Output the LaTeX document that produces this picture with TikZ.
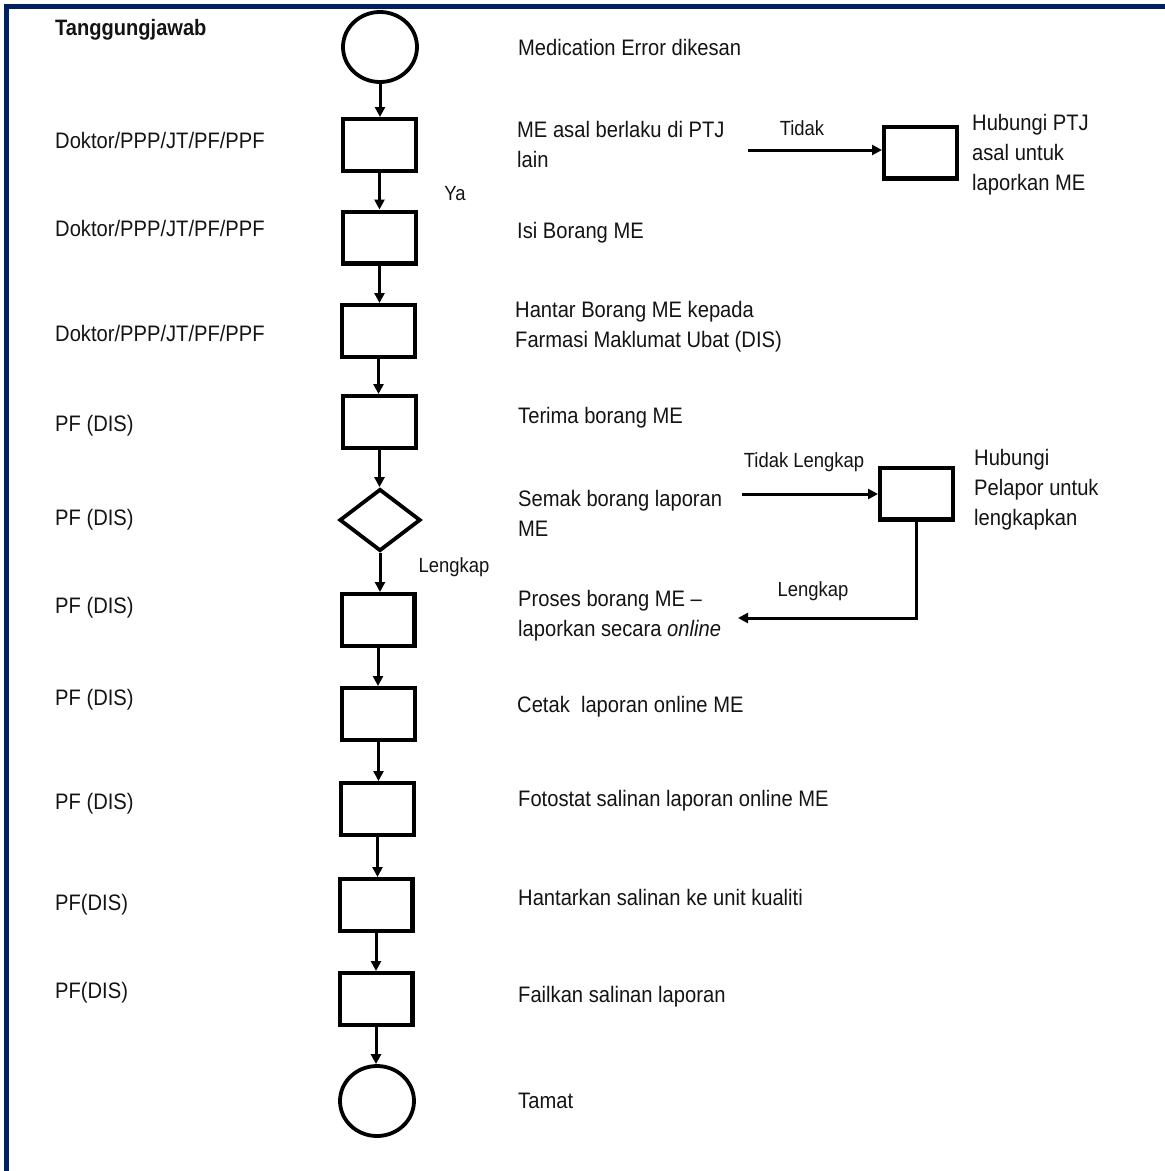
\documentclass[tikz,border=0pt]{standalone}
\usepackage{fontspec}
\setmainfont{Liberation Sans}[FakeStretch=0.9]
\usetikzlibrary{shapes.geometric,arrows.meta}
\definecolor{frameblue}{RGB}{0,32,96}
\definecolor{inkc}{RGB}{20,20,20}
\tikzset{
  procbox/.style={draw, rectangle, line width=4.2pt, minimum width=72.8pt, minimum height=51.8pt, inner sep=0pt},
  termnode/.style={draw, ellipse, line width=3.8pt, minimum width=74pt, minimum height=70pt, inner sep=0pt},
  decnode/.style={draw, diamond, line width=3.8pt, minimum width=81pt, minimum height=62pt, inner sep=0pt},
  conn/.style={line width=3pt, -{Triangle[length=10pt,width=10pt]}},
  txt/.style={anchor=west, inner sep=0pt, align=left, text=inkc, font=\fontsize{22.4}{30}\selectfont},
  lbl/.style={anchor=center, inner sep=0pt, text=inkc, font=\fontsize{20.5}{24}\selectfont},
}
\begin{document}
\begin{tikzpicture}[x=1pt,y=-1pt]
\useasboundingbox (0,0) rectangle (1165,1171);
\draw[line width=5pt, frameblue, line join=miter] (6,1175) -- (6,6) -- (1170,6);

% main column
\node[termnode] (start) at (380,47) {};
\node[procbox] (b1) at (379.5,145) {};
\node[procbox] (b2) at (379.5,237.5) {};
\node[procbox] (b3) at (378.5,331) {};
\node[procbox] (b4) at (379.5,422) {};
\node[decnode] (d1) at (380,520) {};
\node[procbox] (b5) at (378,620) {};
\node[procbox] (b6) at (378.5,714) {};
\node[procbox] (b7) at (377.5,809) {};
\node[procbox] (b8) at (376,905) {};
\node[procbox] (b9) at (376,999) {};
\node[termnode] (end) at (377,1101) {};

% side boxes
\node[procbox] (ptj) at (920.5,152.5) {};
\node[procbox] (pel) at (916.5,493.5) {};

% connectors
\draw[conn] (start.south) -- (start.south |- b1.north);
\draw[conn] (b1.south) -- (b1.south |- b2.north);
\draw[conn] (b2.south) -- (b2.south |- b3.north);
\draw[conn] (b3.south) -- (b3.south |- b4.north);
\draw[conn] (b4.south) -- (b4.south |- d1.north);
\draw[conn] (d1.south) -- (d1.south |- b5.north);
\draw[conn] (b5.south) -- (b5.south |- b6.north);
\draw[conn] (b6.south) -- (b6.south |- b7.north);
\draw[conn] (b7.south) -- (b7.south |- b8.north);
\draw[conn] (b8.south) -- (b8.south |- b9.north);
\draw[conn] (b9.south) -- (b9.south |- end.north);

\coordinate (t1) at (748,150);
\coordinate (t2) at (742,494);
\coordinate (t3) at (738,618);
\draw[conn] (t1) -- (t1 -| ptj.west);
\draw[conn] (t2) -- (t2 -| pel.west);
\draw[conn] (pel.south) |- (t3);

% left column
\node[txt, font=\fontsize{22.3}{24}\selectfont\bfseries] (h) at (55,30) {Tanggungjawab};
\node[txt] (l1) at (55,140) {Doktor/PPP/JT/PF/PPF};
\node[txt] (l2) at (55,228) {Doktor/PPP/JT/PF/PPF};
\node[txt] (l3) at (55,333) {Doktor/PPP/JT/PF/PPF};
\node[txt] (l4) at (55,426) {PF (DIS)};
\node[txt] (l5) at (55,520) {PF (DIS)};
\node[txt] (l6) at (55,608) {PF (DIS)};
\node[txt] (l7) at (55,700) {PF (DIS)};
\node[txt] (l8) at (55,804) {PF (DIS)};
\node[txt] (l9) at (55,905) {PF(DIS)};
\node[txt] (l10) at (55,993) {PF(DIS)};

% right descriptions
\node[txt] (r1) at (518,47) {Medication Error dikesan};
\node[txt] (r2) at (517,144.5) {ME asal berlaku di PTJ\\lain};
\node[txt] (r3) at (517,233) {Isi Borang ME};
\node[txt] (r4) at (515,327) {Hantar Borang ME kepada\\Farmasi Maklumat Ubat (DIS)};
\node[txt] (r5) at (518,418) {Terima borang ME};
\node[txt] (r6) at (518,513) {Semak borang laporan\\ME};
\node[txt] (r7) at (518,616) {Proses borang ME --\\laporkan secara \textit{online}};
\node[txt] (r8) at (517,707) {Cetak\ \ laporan online ME};
\node[txt] (r9) at (518,801) {Fotostat salinan laporan online ME};
\node[txt] (r10) at (518,897) {Hantarkan salinan ke unit kualiti};
\node[txt] (r11) at (518,997) {Failkan salinan laporan};
\node[txt] (r12) at (518,1101) {Tamat};
\node[txt] (s1) at (972,155) {Hubungi PTJ\\asal untuk\\laporkan ME};
\node[txt] (s2) at (974,490) {Hubungi\\Pelapor untuk\\lengkapkan};

% connector labels
\node[lbl] (ya) at (455,194) {Ya};
\node[lbl] (lk1) at (454,567) {Lengkap};
\node[lbl] (td) at (802,128) {Tidak};
\node[lbl] (tl) at (804,462) {Tidak Lengkap};
\node[lbl] (lk2) at (813,591) {Lengkap};
\end{tikzpicture}
\end{document}
